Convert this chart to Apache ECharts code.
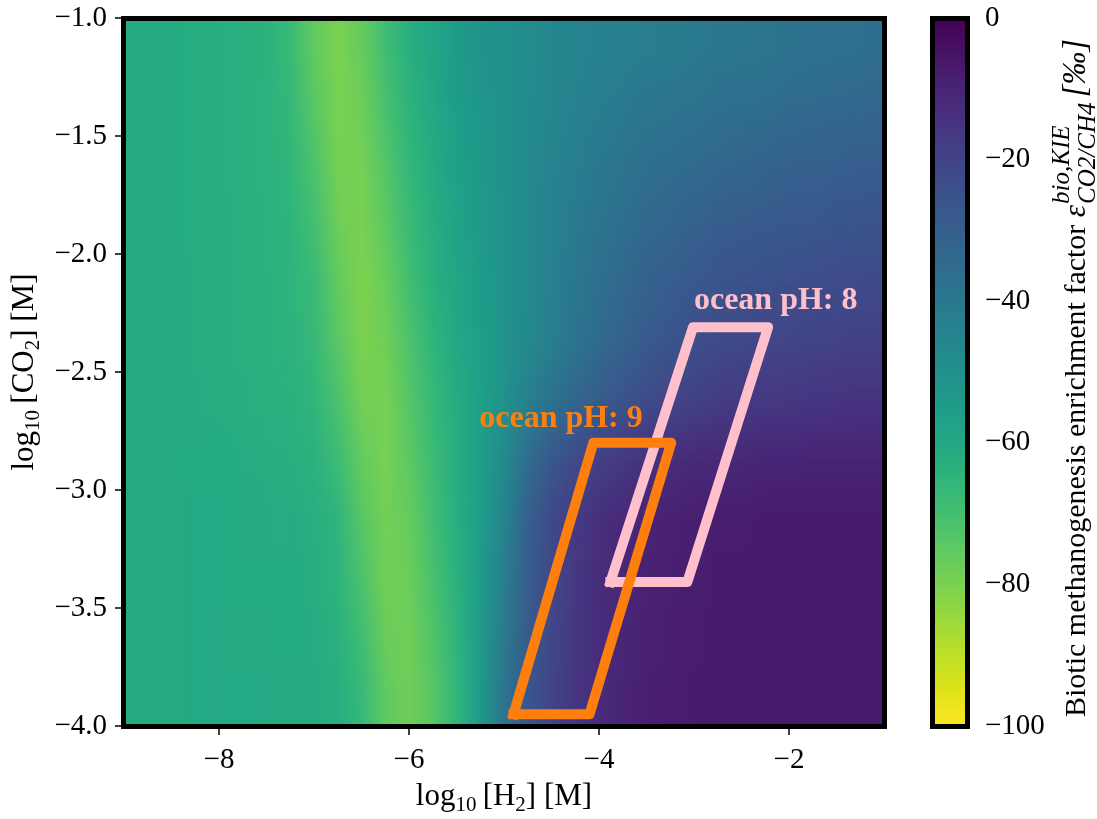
<!DOCTYPE html>
<html><head><meta charset="utf-8">
<script src="https://cdn.jsdelivr.net/npm/echarts@6/dist/echarts.min.js"></script>
<style>html,body{margin:0;padding:0;background:#fff}#c{width:1097px;height:819px}</style>
</head><body><div id="c"></div>
<script>
// ---------------- data ----------------
const H2_LOG = [-9,-8.75,-8.5,-8.25,-8,-7.75,-7.5,-7.25,-7,-6.75,-6.5,-6.25,-6,-5.75,-5.5,-5.25,-5,-4.75,-4.5,-4.25,-4,-3.75,-3.5,-3.25,-3,-2.75,-2.5,-2.25,-2,-1.75,-1.5,-1.25,-1];
const CO2_LOG = [-1.125,-1.375,-1.625,-1.875,-2.125,-2.375,-2.625,-2.875,-3.125,-3.375,-3.625,-3.875];
const EPS = [
 [-61,-61,-61.3,-62,-62.5,-63,-64.1,-67.3,-75.8,-80,-76.2,-68.9,-62.5,-58.9,-54.3,-51.4,-49.6,-47.9,-46.3,-45.1,-43.9,-43.3,-42.1,-41.5,-41,-39.9,-39.4,-38.9,-37.9,-37.4,-36.9,-36.4,-36],
 [-61,-61,-61.3,-62,-62.4,-63,-63.9,-66.5,-73.9,-79.9,-77.6,-70.6,-64.1,-59.9,-55.3,-52.3,-49.9,-47.7,-45.5,-43.7,-42,-40.9,-39.3,-38.4,-37.5,-36.4,-35.8,-35.3,-34.4,-33.9,-33.4,-32.9,-32.5],
 [-61,-61,-61.2,-61.9,-62.3,-63,-63.7,-65.8,-71.6,-79.2,-79.1,-72.8,-65.9,-61,-56.5,-53.1,-50.2,-47.4,-44.7,-42.3,-40.1,-38.4,-36.4,-35.2,-34.1,-32.9,-32.2,-31.7,-30.9,-30.4,-29.9,-29.4,-29.1],
 [-61,-61,-61.1,-61.9,-62.2,-62.9,-63.6,-65.1,-69.7,-77.7,-80,-74.6,-67.5,-62,-57.6,-54,-50.5,-47.2,-43.9,-41,-38.2,-36,-33.6,-32,-30.6,-29.3,-28.6,-28.1,-27.3,-26.8,-26.3,-25.8,-25.6],
 [-61,-61,-61,-61.8,-62,-62.9,-63.4,-64.4,-67.4,-75.9,-80.4,-76.7,-69.4,-63.1,-58.8,-54.8,-50.8,-46.9,-43.2,-39.6,-36.3,-33.6,-30.8,-28.8,-27.2,-25.8,-24.9,-24.4,-23.8,-23.3,-22.8,-22.3,-22.2],
 [-61,-61,-61,-61.8,-62,-62.9,-63.4,-64.3,-66.8,-74,-80.3,-78.1,-71.5,-64.9,-60.1,-55.8,-51.1,-46.6,-42.4,-38.2,-34.4,-31.2,-27.9,-25.6,-23.7,-22.3,-21.3,-20.8,-20.3,-19.8,-19.3,-18.8,-18.7],
 [-61,-61,-61,-61.5,-61.6,-62.4,-62.9,-63.5,-65.4,-71.1,-78.7,-79.2,-73.2,-66.6,-61.1,-56.1,-49.9,-42.8,-37,-32.4,-28.5,-25.4,-22.4,-20.3,-18.6,-17.4,-16.6,-16.1,-15.8,-15.4,-15,-14.6,-14.6],
 [-61,-61,-61,-60.9,-61.1,-61.5,-62,-62.3,-63.7,-68,-76.1,-79.2,-74.6,-67.8,-61.6,-55.8,-46.9,-35.1,-27,-22.1,-18.5,-16.1,-14.1,-12.8,-11.9,-11.1,-10.9,-10.4,-10.3,-10.1,-10,-9.9,-9.9],
 [-61,-61,-61,-60.5,-60.8,-60.9,-61.4,-61.4,-62.4,-65.2,-73.6,-78.9,-76.1,-69.2,-62.1,-55.2,-44.4,-30.5,-21.7,-16.8,-13.3,-11.3,-9.8,-8.9,-8.4,-7.9,-7.9,-7.4,-7.4,-7.4,-7.4,-7.4,-7.4],
 [-61,-61,-61,-60.5,-60.8,-60.8,-61.2,-61.2,-62,-64.5,-71.4,-78.6,-77.2,-70.6,-63.2,-54.5,-42.4,-29.2,-21.3,-16.4,-12.9,-10.9,-9.4,-8.6,-8.1,-7.6,-7.6,-7.3,-7.3,-7.3,-7.3,-7.3,-7.3],
 [-61,-61,-61,-60.5,-60.7,-60.6,-60.9,-60.9,-61.7,-63.5,-68.9,-77.1,-78.1,-72.2,-64.5,-53.9,-40.4,-27.9,-20.8,-16,-12.5,-10.5,-9,-8.3,-7.8,-7.3,-7.3,-7.2,-7.2,-7.2,-7.2,-7.2,-7.2],
 [-61,-61,-61,-60.5,-60.6,-60.4,-60.6,-60.6,-61.2,-62.6,-66.7,-75.3,-78.3,-73.6,-65.5,-53.2,-38.3,-26.6,-20.3,-15.6,-12.1,-10.1,-8.6,-8,-7.5,-7,-7,-7,-7,-7,-7,-7,-7]
];
const X_TICKS = [-8,-6,-4,-2];
const Y_TICKS = [-4,-3.5,-3,-2.5,-2,-1.5,-1];
const CBAR_TICKS = [-100,-80,-60,-40,-20,0];
const PH8_BOX = [[-3.88,-3.39],[-3.01,-2.31],[-2.22,-2.31],[-3.07,-3.39],[-3.88,-3.39]];
const PH9_BOX = [[-4.90,-3.95],[-4.06,-2.80],[-3.24,-2.80],[-4.10,-3.95],[-4.90,-3.95]];
const LABELS = ['ocean pH: 8','ocean pH: 9'];
const LABEL_AT = [[-2.14,-2.20],[-4.40,-2.70]];
const LABEL_COLORS = ['#ffc0cb','#ff7f0e'];
const VIRIDIS = ['#440154','#471365','#482475','#463480','#414487','#3b528b','#355f8d','#2f6c8e','#2a788e','#25848e','#21918c','#1e9c89','#22a884','#2fb47c','#44bf70','#5ec962','#7ad151','#9bd93c','#bddf26','#dfe318','#fde725'];

// ---------------- chart ----------------
const SERIF = '"Liberation Serif","Times New Roman",serif';
const minus = s => String(s).replace('-', '\u2212');
const NX = H2_LOG.length, NR = CO2_LOG.length;
const DY = Math.abs(CO2_LOG[1] - CO2_LOG[0]);
const SUB = 8;
const heat = [];
CO2_LOG.forEach((y, r) => H2_LOG.forEach((x, i) => heat.push([x, y, EPS[r][i]])));

const G = {left:124, top:18, width:760, height:708};
const CB = {left:933, top:18, width:34, height:708};

function renderCell(params, api) {
  const idx = params.dataIndexInside;
  const i = idx % NX, r = Math.floor(idx / NX);
  if (i === NX - 1) return null;
  const x0 = api.value(0), x1 = api.value(0, idx + 1), y0 = api.value(1);
  const cL0 = api.visual('color', idx), cR0 = api.visual('color', idx + 1);
  const children = [];
  const strip = (ya, yb, cl, cr) => {
    const p0 = api.coord([x0, ya]), p1 = api.coord([x1, yb]);
    children.push({type:'rect', shape:{x:p0[0], y:p0[1], width:p1[0]-p0[0]+1, height:p1[1]-p0[1]+1},
      style:{fill:new echarts.graphic.LinearGradient(0,0,1,0,[{offset:0,color:cl},{offset:1,color:cr}])}});
  };
  if (r === 0) strip(y0 + DY / 2, y0, cL0, cR0);
  if (r === NR - 1) { strip(y0, y0 - DY / 2, cL0, cR0); }
  else {
    const y1 = api.value(1, idx + NX);
    const cL1 = api.visual('color', idx + NX), cR1 = api.visual('color', idx + NX + 1);
    for (let k = 0; k < SUB; k++) {
      const t = (k + 0.5) / SUB;
      strip(y0 + (y1 - y0) * k / SUB, y0 + (y1 - y0) * (k + 1) / SUB,
        echarts.color.lerp(t, [cL0, cL1]), echarts.color.lerp(t, [cR0, cR1]));
    }
  }
  return {type:'group', children};
}
function renderBar(params, api) {
  const a = api.coord([0, api.value(2)]), b = api.coord([1, api.value(1)]);
  const stops = VIRIDIS.map((c, k) => ({offset:k/(VIRIDIS.length-1), color:c}));
  return {type:'rect', shape:{x:a[0], y:a[1], width:b[0]-a[0], height:b[1]-a[1]},
    style:{fill:new echarts.graphic.LinearGradient(0,0,0,1,stops)}};
}

const chart = echarts.init(document.getElementById('c'), null, {renderer:'canvas'});

// colorbar label measurement
const ctx = document.createElement('canvas').getContext('2d');
function tw(text, font){ ctx.font = font; return ctx.measureText(text).width; }
const F_MAIN = '30px "Liberation Serif"';
const F_EPS = 'italic 31px "Liberation Serif"';
const F_SMALL = 'italic 25px "Liberation Serif"';
const F_PERMIL = 'italic 33px "Liberation Serif"';
const mainTxt = 'Biotic methanogenesis enrichment factor ';
const w1 = tw(mainTxt, F_MAIN), we = tw('\u03b5', F_EPS);
const wsup = tw('bio,KIE', F_SMALL), wsub = tw('CO2/CH4', F_SMALL);
const xs = w1 + we + 1, xp = xs + Math.max(wsup, wsub) + 5;

const subRich = {
  n:{fontSize:31, fontFamily:SERIF, color:'#000', lineHeight:38},
  s:{fontSize:21, fontFamily:SERIF, color:'#000', lineHeight:21, verticalAlign:'bottom'}
};

chart.setOption({
  animation:false,
  backgroundColor:'#fff',
  grid:[Object.assign({outerBoundsMode:'none'}, G), Object.assign({outerBoundsMode:'none'}, CB)],
  xAxis:[{
    type:'value', gridIndex:0, min:-9, max:-1,
    axisLine:{show:false}, splitLine:{show:false},
    axisTick:{show:true, customValues:X_TICKS, length:9, lineStyle:{color:'#000', width:1.5}},
    axisLabel:{customValues:X_TICKS, formatter:v=>minus(v), margin:20, fontSize:29, fontFamily:SERIF, color:'#000'},
    name:'{n|log}{s|10}{n|\u2009[H}{s|2}{n|] [M]}', nameLocation:'middle', nameGap:52,
    nameTextStyle:{rich:subRich}
  },{
    type:'value', gridIndex:1, min:0, max:1, show:false
  }],
  yAxis:[{
    type:'value', gridIndex:0, min:Y_TICKS[0], max:Y_TICKS[Y_TICKS.length-1], interval:0.5,
    axisLine:{show:false}, splitLine:{show:false},
    axisTick:{show:true, length:9, lineStyle:{color:'#000', width:1.5}},
    axisLabel:{formatter:v=>minus(v.toFixed(1)), margin:17, fontSize:29, fontFamily:SERIF, color:'#000'},
    name:'{n|log}{s|10}{n|\u2009[CO}{s|2}{n|] [M]}', nameLocation:'middle', nameGap:68, nameRotate:90,
    nameTextStyle:{rich:subRich}
  },{
    type:'value', gridIndex:1, min:CBAR_TICKS[0], max:CBAR_TICKS[CBAR_TICKS.length-1], interval:20, position:'right',
    axisLine:{show:false}, splitLine:{show:false},
    axisTick:{show:true, length:10, lineStyle:{color:'#000', width:1.5}},
    axisLabel:{formatter:v=>minus(v), margin:18, fontSize:29, fontFamily:SERIF, color:'#000'}
  }],
  visualMap:{type:'continuous', show:false, min:-100, max:0, dimension:2, seriesIndex:0,
    inRange:{color:VIRIDIS.slice().reverse()}},
  series:[
    {type:'custom', xAxisIndex:0, yAxisIndex:0, data:heat, renderItem:renderCell, clip:true, silent:true,
     encode:{x:0, y:1}},
    {type:'custom', xAxisIndex:1, yAxisIndex:1, data:[[0, CBAR_TICKS[0], CBAR_TICKS[CBAR_TICKS.length-1]]],
     renderItem:renderBar, silent:true, encode:{x:0, y:1}},
    {type:'line', xAxisIndex:0, yAxisIndex:0, data:PH8_BOX, symbol:'none', silent:true, z:5,
     lineStyle:{color:'#ffc0cb', width:10, join:'round', cap:'square'}},
    {type:'line', xAxisIndex:0, yAxisIndex:0, data:PH9_BOX, symbol:'none', silent:true, z:6,
     lineStyle:{color:'#ff7f0e', width:10, join:'round', cap:'square'}},
    {type:'scatter', xAxisIndex:0, yAxisIndex:0, symbolSize:0, silent:true, z:7,
     itemStyle:{opacity:1},
     data:LABELS.map((t, k) => ({name:t, value:LABEL_AT[k],
       label:{color:LABEL_COLORS[k]}})),
     label:{show:true, position:'inside', formatter:'{b}', fontSize:32, fontWeight:'bold', fontFamily:SERIF,
       opacity:1, textBorderWidth:0, textBorderColor:'transparent'}}
  ],
  graphic:[
    {type:'rect', z:100, silent:true, shape:{x:G.left-0.5, y:G.top+0.5, width:G.width+1, height:G.height},
     style:{fill:null, stroke:'#000', lineWidth:5}},
    {type:'rect', z:100, silent:true, shape:{x:CB.left-0.5, y:CB.top+0.5, width:CB.width+1, height:CB.height},
     style:{fill:null, stroke:'#000', lineWidth:5}},
    {type:'group', x:1077, y:717, rotation:Math.PI/2, silent:true, children:[
      {type:'text', x:0, y:0, style:{text:mainTxt, font:F_MAIN, fill:'#000', textAlign:'left', textVerticalAlign:'middle'}},
      {type:'text', x:w1, y:0, style:{text:'\u03b5', font:F_EPS, fill:'#000', textAlign:'left', textVerticalAlign:'middle'}},
      {type:'text', x:xs, y:-15, style:{text:'bio,KIE', font:F_SMALL, fill:'#000', textAlign:'left', textVerticalAlign:'middle'}},
      {type:'text', x:xs, y:11, style:{text:'CO2/CH4', font:F_SMALL, fill:'#000', textAlign:'left', textVerticalAlign:'middle'}},
      {type:'text', x:xp, y:-1, style:{text:'[\u2030]', font:F_PERMIL, fill:'#000', textAlign:'left', textVerticalAlign:'middle'}}
    ]}
  ]
});
</script></body></html>
